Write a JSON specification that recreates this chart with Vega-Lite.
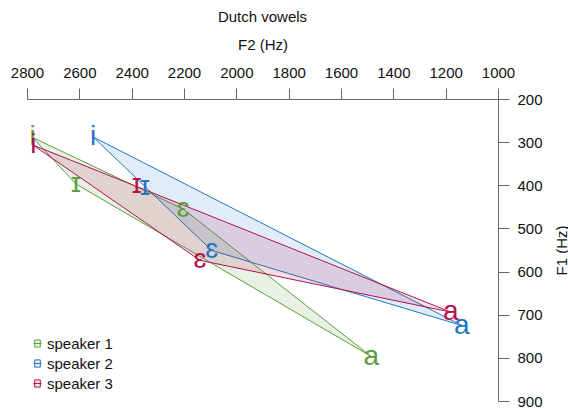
{
  "$schema": "https://vega.github.io/schema/vega-lite/v6.json",
  "width": 471,
  "height": 302,
  "autosize": {"type": "none"},
  "padding": {"left": 27, "top": 99, "right": 70, "bottom": 9},
  "background": "white",
  "title": {"text": "Dutch vowels", "fontSize": 15, "fontWeight": "normal", "font": "Liberation Sans", "color": "#111", "anchor": "middle", "frame": "group", "offset": 12},
  "config": {"view": {"stroke": null}, "font": "Liberation Sans"},
  "data": {"values": [
    {"speaker": "speaker 1", "vowel": "i", "F2": 2779, "F1": 289, "hull": 1},
    {"speaker": "speaker 1", "vowel": "ɪ", "F2": 2613, "F1": 397, "hull": 2},
    {"speaker": "speaker 1", "vowel": "ɛ", "F2": 2203, "F1": 455, "hull": 4},
    {"speaker": "speaker 1", "vowel": "a", "F2": 1484, "F1": 797, "hull": 3},
    {"speaker": "speaker 2", "vowel": "i", "F2": 2547, "F1": 288, "hull": 1},
    {"speaker": "speaker 2", "vowel": "ɪ", "F2": 2349, "F1": 405, "hull": null},
    {"speaker": "speaker 2", "vowel": "ɛ", "F2": 2094, "F1": 551, "hull": 2},
    {"speaker": "speaker 2", "vowel": "a", "F2": 1138, "F1": 725, "hull": 3},
    {"speaker": "speaker 3", "vowel": "i", "F2": 2776, "F1": 307, "hull": 1},
    {"speaker": "speaker 3", "vowel": "ɪ", "F2": 2381, "F1": 400, "hull": null},
    {"speaker": "speaker 3", "vowel": "ɛ", "F2": 2139, "F1": 574, "hull": 2},
    {"speaker": "speaker 3", "vowel": "a", "F2": 1180, "F1": 694, "hull": 3}
  ]},
  "encoding": {
    "x": {"field": "F2", "type": "quantitative",
      "scale": {"domain": [1000, 2800], "reverse": true, "nice": false, "zero": false},
      "axis": {"orient": "top", "values": [2800, 2600, 2400, 2200, 2000, 1800, 1600, 1400, 1200, 1000], "format": "d", "title": "F2 (Hz)", "grid": false, "tickSize": 11, "tickColor": "#666", "domainColor": "#666", "labelFontSize": 15, "labelColor": "#111", "labelFont": "Liberation Sans", "labelPadding": 8, "labelFlush": false, "labelOverlap": false, "titleFontSize": 15, "titleFontWeight": "normal", "titleColor": "#111", "titleFont": "Liberation Sans", "titleX": 235.5, "titleY": -50, "titleBaseline": "alphabetic"}},
    "y": {"field": "F1", "type": "quantitative",
      "scale": {"domain": [200, 900], "reverse": true, "nice": false, "zero": false},
      "axis": {"orient": "right", "values": [200, 300, 400, 500, 600, 700, 800, 900], "format": "d", "title": "F1 (Hz)", "grid": false, "tickSize": 11, "tickColor": "#666", "domainColor": "#666", "labelFontSize": 15, "labelColor": "#111", "labelFont": "Liberation Sans", "labelPadding": 8, "labelFlush": false, "labelOverlap": false, "titleFontSize": 15, "titleFontWeight": "normal", "titleColor": "#111", "titleFont": "Liberation Sans", "titleAngle": 270, "titleX": 68, "titleY": 151, "titleAlign": "center", "titleBaseline": "alphabetic"}}
  },
  "layer": [
    {
      "transform": [{"filter": "datum.hull != null"}],
      "mark": {"type": "line", "interpolate": "linear-closed", "fillOpacity": 0.14, "strokeWidth": 1},
      "encoding": {
        "order": {"field": "hull", "type": "quantitative"},
        "stroke": {"field": "speaker", "type": "nominal",
          "scale": {"domain": ["speaker 1", "speaker 2", "speaker 3"], "range": ["#5a9e3a", "#2277c4", "#b3124f"]},
          "legend": {"title": null, "orient": "none", "legendX": 3, "legendY": 237, "symbolType": "M-0.7,-0.9H0.7V0.9H-0.7Z M-1,0H1", "symbolSize": 64, "symbolStrokeWidth": 1, "labelFontSize": 15, "labelFont": "Liberation Sans", "labelColor": "#111", "labelOffset": 2, "rowPadding": 4, "padding": 0,
            "encode": {"symbols": {"update": {"fillOpacity": {"value": 0.12}, "strokeOpacity": {"value": 1}}}}}},
        "fill": {"field": "speaker", "type": "nominal",
          "scale": {"domain": ["speaker 1", "speaker 2", "speaker 3"], "range": ["#5a9e3a", "#2277c4", "#b3124f"]},
          "legend": {"title": null, "orient": "none", "legendX": 3, "legendY": 237, "symbolType": "M-0.7,-0.9H0.7V0.9H-0.7Z M-1,0H1", "symbolSize": 64, "symbolStrokeWidth": 1, "labelFontSize": 15, "labelFont": "Liberation Sans", "labelColor": "#111", "labelOffset": 2, "rowPadding": 4, "padding": 0,
            "encode": {"symbols": {"update": {"fillOpacity": {"value": 0.12}, "strokeOpacity": {"value": 1}}}}}}
      }
    },
    {
      "mark": {"type": "text", "fontSize": 28, "font": "Liberation Sans, DejaVu Sans", "baseline": "middle", "align": "center"},
      "encoding": {
        "text": {"field": "vowel"},
        "color": {"field": "speaker", "type": "nominal",
          "scale": {"domain": ["speaker 1", "speaker 2", "speaker 3"], "range": ["#5a9e3a", "#2277c4", "#b3124f"]},
          "legend": null}
      }
    }
  ]
}
